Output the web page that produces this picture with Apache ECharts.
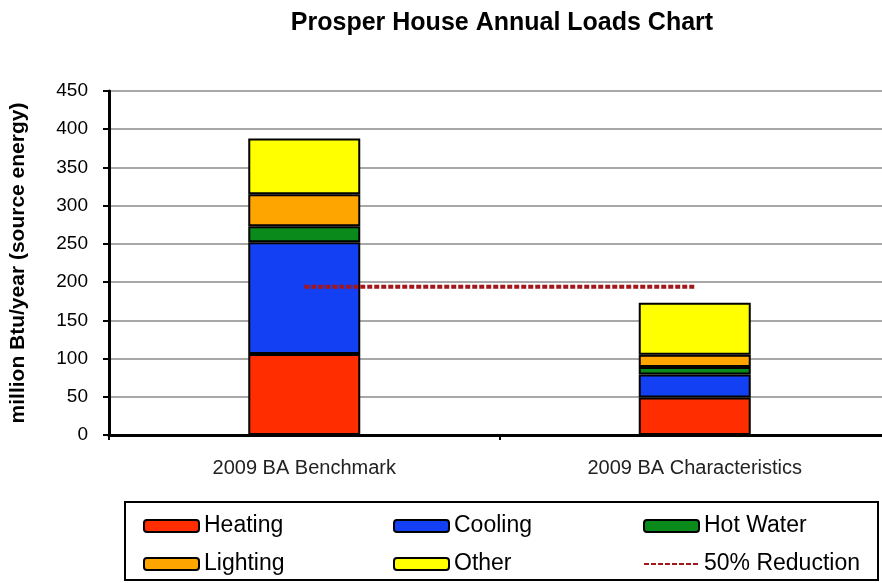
<!DOCTYPE html>
<html>
<head>
<meta charset="utf-8">
<script src="https://cdn.jsdelivr.net/npm/echarts@6/dist/echarts.min.js"></script>
<style>
html, body { margin: 0; padding: 0; background: #fff; overflow: hidden; }
#chart { width: 890px; height: 583px; }
</style>
</head>
<body>
<div id="chart"></div>
<script>
// data (million Btu/year)
var categories = ['2009 BA Benchmark', '2009 BA Characteristics']
var heating = [106, 49]
var cooling = [146, 30]
var hotWater = [21, 10]
var lighting = [42, 16]
var other = [73, 68]
var reduction = [194, 194]

var barBorder = { borderColor: '#000', borderWidth: 2 }

function stackBar(name, data, color) {
  return {
    name: name,
    type: 'bar',
    stack: 'loads',
    barWidth: 112,
    data: data,
    itemStyle: Object.assign({ color: color }, barBorder)
  }
}

var myChart = echarts.init(document.getElementById('chart'))
var option = {
  animation: false,
  textStyle: { fontFamily: 'Liberation Sans, Arial, sans-serif' },
  title: {
    text: 'Prosper House Annual Loads Chart',
    left: 497,
    textAlign: 'center',
    top: 6,
    textStyle: { fontSize: 25, fontWeight: 'bold', color: '#000' }
  },
  grid: { left: 108, top: 91, right: 0, bottom: 148, containLabel: false },
  legend: {
    left: 138,
    top: 507,
    width: 760,
    itemWidth: 55,
    itemHeight: 12,
    itemGap: 10,
    textStyle: { fontSize: 23, color: '#000', width: 179, lineHeight: 28 },
    data: [
      { name: 'Heating', icon: 'roundRect' },
      { name: 'Cooling', icon: 'roundRect' },
      { name: 'Hot Water', icon: 'roundRect' },
      { name: 'Lighting', icon: 'roundRect' },
      { name: 'Other', icon: 'roundRect' },
      { name: '50% Reduction', itemStyle: { opacity: 0 } }
    ]
  },
  graphic: [{
    type: 'rect',
    shape: { x: 125, y: 502, width: 753, height: 78 },
    style: { fill: 'none', stroke: '#000', lineWidth: 2 }
  }],
  xAxis: {
    type: 'category',
    data: categories,
    axisLine: { lineStyle: { color: '#000', width: 3 } },
    axisTick: { show: true, length: 5, lineStyle: { color: '#000', width: 2 } },
    axisLabel: { fontSize: 20, color: '#222', margin: 23 }
  },
  yAxis: {
    type: 'value',
    min: 0,
    max: 450,
    interval: 50,
    name: 'million Btu/year (source energy)',
    nameLocation: 'middle',
    nameGap: 80,
    nameTextStyle: { fontSize: 21, fontWeight: 'bold', color: '#000' },
    axisLine: { show: true, lineStyle: { color: '#000', width: 3 } },
    axisTick: { show: true, length: 6, lineStyle: { color: '#000', width: 2 } },
    axisLabel: { fontSize: 19, color: '#000', margin: 21 },
    splitLine: { lineStyle: { color: '#a8a8a8', width: 2 } }
  },
  series: [
    stackBar('Heating', heating, '#ff2d00'),
    stackBar('Cooling', cooling, '#1240f2'),
    stackBar('Hot Water', hotWater, '#0a8a1a'),
    stackBar('Lighting', lighting, '#ffa500'),
    stackBar('Other', other, '#ffff00'),
    {
      name: '50% Reduction',
      type: 'line',
      data: reduction,
      symbol: 'none',
      z: 5,
      lineStyle: { color: '#a3161b', width: 4, type: [5, 2] },
      itemStyle: { color: '#a3161b' }
    }
  ]
}
myChart.setOption(option)
</script>
</body>
</html>
